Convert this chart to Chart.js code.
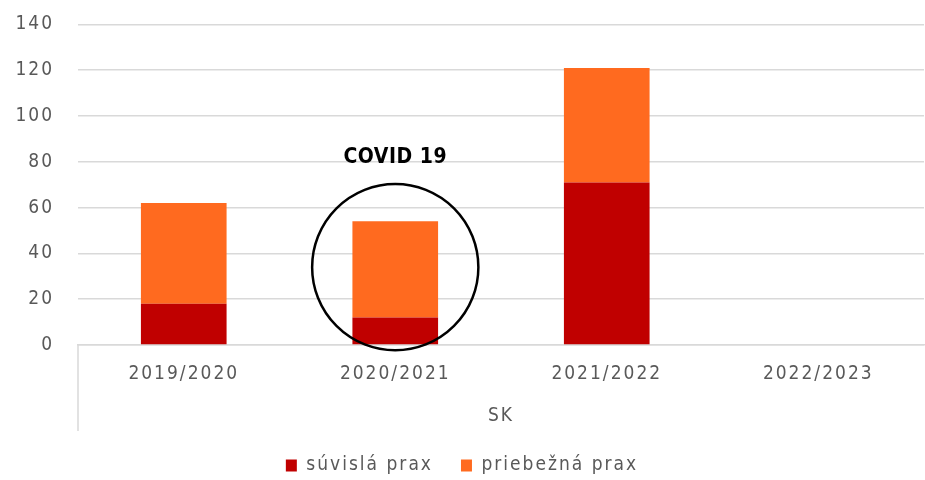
<!DOCTYPE html>
<html>
<head>
<meta charset="utf-8">
<script src="https://cdn.jsdelivr.net/npm/chart.js@4.4.0/dist/chart.umd.min.js"></script>
<style>
  html, body { margin: 0; padding: 0; background: #ffffff; }
  #wrap { width: 925px; height: 480px; position: relative; }
</style>
</head>
<body>
<div id="wrap"><canvas id="chart"></canvas></div>
<script>
// data
const categories = ['2019/2020', '2020/2021', '2021/2022', '2022/2023'];
const suvislaPrax = [18, 12, 71, 0];
const priebeznaPrax = [44, 42, 50, 0];
const groupLabel = 'SK';
const noteText = 'COVID 19';

const FONT = "'DejaVu Sans Condensed', 'DejaVu Sans', sans-serif";
const TEXT = '#595959';
const GRID = '#d9d9d9';

// roztiahnutie pismen ako v povodnom grafe
const spacingPlugin = {
    id: 'spacing',
    beforeLayout(chart) { chart.ctx.letterSpacing = '2px'; },
    beforeDraw(chart) { chart.ctx.letterSpacing = '2px'; }
};

// kruh okolo covidoveho roka + popis + lavy okraj kategorii
const notePlugin = {
    id: 'note',
    afterDraw(chart) {
        const ctx = chart.ctx;
        const x = chart.scales.x;
        const y = chart.scales.y;
        const area = chart.chartArea;
        const band = x.getPixelForValue(1) - x.getPixelForValue(0);
        const cx = x.getPixelForValue(1);
        const cy = y.getPixelForValue(34);
        ctx.save();
        ctx.letterSpacing = '0px';
        ctx.strokeStyle = '#000000';
        ctx.lineWidth = 2.5;
        ctx.beginPath();
        ctx.arc(cx, cy, band * 0.393, 0, Math.PI * 2);
        ctx.stroke();

        ctx.fillStyle = '#000000';
        ctx.font = 'bold 21px ' + FONT;
        ctx.letterSpacing = '0.5px';
        ctx.textAlign = 'center';
        ctx.textBaseline = 'middle';
        ctx.fillText(noteText, cx, y.getPixelForValue(82));

        ctx.strokeStyle = GRID;
        ctx.lineWidth = 1.5;
        ctx.beginPath();
        ctx.moveTo(area.left, area.bottom);
        ctx.lineTo(area.left, area.bottom + 86);
        ctx.stroke();
        ctx.restore();
    }
};

new Chart(document.getElementById('chart'), {
    type: 'bar',
    data: {
        labels: categories,
        datasets: [{
            label: 'súvislá prax',
            data: suvislaPrax,
            backgroundColor: '#c00000'
        }, {
            label: 'priebežná prax',
            data: priebeznaPrax,
            backgroundColor: '#ff6a1f'
        }]
    },
    options: {
        responsive: true,
        maintainAspectRatio: false,
        animation: false,
        datasets: {
            bar: { barPercentage: 0.405, categoryPercentage: 1 }
        },
        layout: { padding: { top: 0, right: 1, bottom: -5, left: 0 } },
        plugins: {
            tooltip: { enabled: false },
            legend: {
                position: 'bottom',
                labels: {
                    color: TEXT,
                    font: { family: FONT, size: 19 },
                    boxWidth: 11,
                    boxHeight: 12,
                    padding: 28
                }
            }
        },
        scales: {
            x: {
                stacked: true,
                grid: { display: false, drawTicks: false },
                border: { display: true, color: GRID, width: 1.5 },
                ticks: { color: TEXT, font: { family: FONT, size: 19 }, padding: 18, maxRotation: 0 },
                title: {
                    display: true,
                    text: groupLabel,
                    color: TEXT,
                    font: { family: FONT, size: 19 },
                    padding: { top: 0, bottom: 1 }
                },
                afterFit(scale) { scale.height = 83; }
            },
            y: {
                stacked: true,
                min: 0,
                max: 140,
                ticks: { stepSize: 20, color: TEXT, font: { family: FONT, size: 19 }, padding: 13 },
                grid: { color: GRID, lineWidth: 1.5, drawTicks: true, tickLength: 11, tickColor: 'rgba(0,0,0,0)' },
                border: { display: false },
                afterFit(scale) { scale.width = 78; }
            }
        }
    },
    plugins: [spacingPlugin, notePlugin]
});
</script>
</body>
</html>
